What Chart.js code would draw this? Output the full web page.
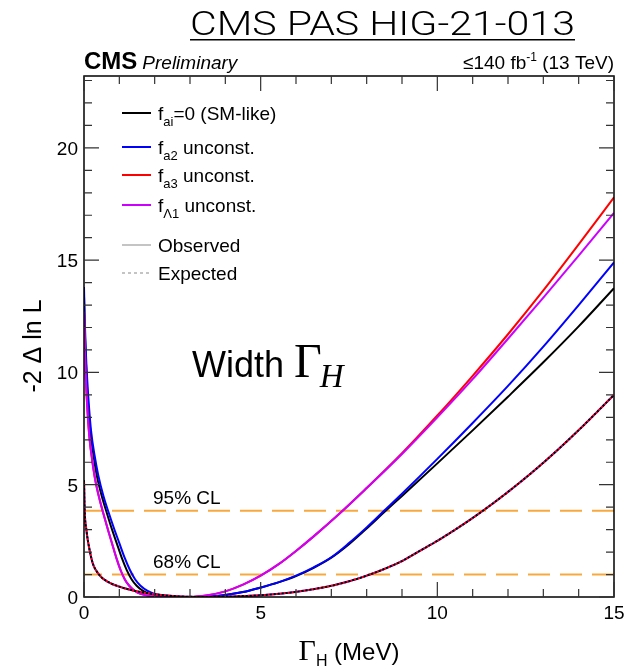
<!DOCTYPE html>
<html>
<head>
<meta charset="utf-8">
<script src="https://cdn.jsdelivr.net/npm/chart.js@4.4.0/dist/chart.umd.min.js"></script>
<style>
  html, body { margin: 0; padding: 0; background: #fff; }
  canvas { display: block; }
</style>
</head>
<body>
<canvas id="c" width="641" height="667"></canvas>
<script>
// ---------- data ----------
const xTicks = [0, 5, 10, 15];
const yTicks = [0, 5, 10, 15, 20];
const clLevels = [3.84, 1.0];
const clLabels = ["95% CL", "68% CL"];

// observed (solid)
const smX = [0, 0.02, 0.05, 0.08, 0.13, 0.19, 0.28, 0.37, 0.51, 0.65, 0.79, 0.93, 1.07, 1.21, 1.35, 1.49, 1.67, 1.86, 2.14, 2.45, 3.0,
             3.5, 4.0, 4.5, 5.0, 5.5, 6.0, 6.5, 7.0, 7.5, 8.0, 8.5, 9, 10, 11, 12, 13, 14, 15];
const smY = [13.4, 12.0, 10.7, 9.5, 8.3, 7.25, 6.2, 5.35, 4.45, 3.72, 3.02, 2.38, 1.74, 1.2, 0.78, 0.5, 0.27, 0.14, 0.05, 0.01, 0,
             0.02, 0.09, 0.22, 0.42, 0.65, 0.93, 1.3, 1.75, 2.35, 3.05, 3.78, 4.5, 5.95, 7.42, 8.92, 10.45, 12.05, 13.75];

const a2X = [0, 0.02, 0.05, 0.09, 0.14, 0.2, 0.3, 0.4, 0.55, 0.7, 0.85, 1.0, 1.15, 1.3, 1.45, 1.6, 1.8, 2.0, 2.3, 2.6, 2.95,
             3.5, 4.0, 4.5, 5.0, 5.5, 6.0, 6.5, 7.0, 7.5, 8.0, 8.5, 9, 10, 11, 12, 13, 14, 15];
const a2Y = [13.8, 12.4, 11.0, 9.7, 8.5, 7.4, 6.3, 5.45, 4.5, 3.75, 3.05, 2.4, 1.75, 1.2, 0.78, 0.5, 0.27, 0.14, 0.05, 0.01, 0,
             0.02, 0.09, 0.22, 0.42, 0.65, 0.95, 1.32, 1.77, 2.4, 3.1, 3.85, 4.6, 6.15, 7.75, 9.4, 11.15, 13.0, 14.9];

const a3X = [0, 0.02, 0.04, 0.07, 0.11, 0.16, 0.24, 0.32, 0.44, 0.56, 0.68, 0.8, 0.92, 1.04, 1.16, 1.28, 1.44, 1.6, 1.84, 2.1, 2.5, 3.0,
             3.5, 4.0, 4.5, 5.0, 5.5, 6.0, 6.5, 7.25, 8.0, 9, 10, 11, 12, 13, 14, 15];
const a3Y = [12.7, 11.3, 10.2, 9.1, 8.0, 7.0, 6.0, 5.2, 4.35, 3.65, 2.98, 2.35, 1.72, 1.18, 0.77, 0.5, 0.27, 0.14, 0.05, 0.015, 0.002, 0,
             0.08, 0.25, 0.55, 0.95, 1.45, 2.05, 2.7, 3.74, 4.85, 6.4, 8.08, 9.85, 11.7, 13.65, 15.7, 17.8];

const l1X = [0, 0.02, 0.04, 0.07, 0.11, 0.16, 0.24, 0.32, 0.44, 0.56, 0.68, 0.8, 0.92, 1.04, 1.16, 1.28, 1.44, 1.6, 1.84, 2.1, 2.5, 3.0,
             3.5, 4.0, 4.5, 5.0, 5.5, 6.0, 6.5, 7.25, 8.0, 9, 10, 11, 12, 13, 14, 15];
const l1Y = [12.7, 11.3, 10.2, 9.1, 8.0, 7.0, 6.0, 5.2, 4.35, 3.65, 2.98, 2.35, 1.72, 1.18, 0.77, 0.5, 0.27, 0.14, 0.05, 0.015, 0.002, 0,
             0.08, 0.25, 0.55, 0.95, 1.45, 2.05, 2.7, 3.74, 4.85, 6.37, 8.0, 9.7, 11.5, 13.33, 15.2, 17.1];

// expected (dotted): the four hypotheses lie on top of each other
const expX = [0, 0.02, 0.07, 0.16, 0.25, 0.3, 0.4, 0.5, 0.65, 0.8, 1.0, 1.34, 1.7, 2.19, 2.6, 3.0, 3.3,
              4.0, 4.5, 5.0, 5.5, 6.0, 6.5, 7.0, 7.5, 8.0, 8.5, 9.0, 9.5, 10, 11, 12, 13, 14, 15];
const expY = [5.2, 3.85, 2.96, 2.08, 1.49, 1.3, 1.05, 0.87, 0.7, 0.58, 0.46, 0.31, 0.19, 0.09, 0.035, 0.008, 0,
              0.015, 0.04, 0.08, 0.14, 0.23, 0.35, 0.5, 0.7, 0.95, 1.25, 1.6, 2.05, 2.5, 3.52, 4.68, 5.98, 7.43, 9.0];

const COL = { sm: "#000000", a2: "#0000ff", a3: "#ff0000", l1: "#cc00ff", cl: "#f7a93f", grey: "#c4c4c4" };
const SANS = '"Liberation Sans", Arial, Helvetica, sans-serif';
const SERIF = '"Liberation Serif", "Times New Roman", serif';

const pts = (xs, ys) => xs.map((x, i) => ({ x, y: ys[i] }));

function solid(label, xs, ys, color) {
  return { label, data: pts(xs, ys), borderColor: color, borderWidth: 2, pointRadius: 0,
           fill: false, cubicInterpolationMode: "monotone" };
}
function dotted(label, color, offset) {
  return { label, data: pts(expX, expY), borderColor: color, borderWidth: 2, pointRadius: 0,
           fill: false, cubicInterpolationMode: "monotone", borderDash: [2, 2], borderDashOffset: offset };
}
function clLine(v) {
  return { label: "cl" + v, data: [{ x: 0, y: v }, { x: 15, y: v }], borderColor: COL.cl, borderWidth: 2,
           pointRadius: 0, fill: false, borderDash: [22, 10], borderDashOffset: 4 };
}

// first dataset ends up on top
const datasets = [
  dotted("exp sm", COL.sm, 0),
  dotted("exp a3", COL.a3, 2),
  dotted("exp l1", COL.l1, 1),
  solid("fL1", l1X, l1Y, COL.l1),
  solid("fa3", a3X, a3Y, COL.a3),
  solid("fa2", a2X, a2Y, COL.a2),
  solid("SM", smX, smY, COL.sm),
  dotted("exp a2", COL.a2, 3),
  ...clLevels.map(clLine),
];

// ---------- text helpers ----------
function txt(ctx, s, x, y, font, align, color) {
  ctx.font = font;
  ctx.textAlign = align || "left";
  ctx.textBaseline = "alphabetic";
  ctx.fillStyle = color || "#000";
  ctx.fillText(s, x, y);
  return ctx.measureText(s).width;
}
// runs: [text, font, dy]
function runs(ctx, x, y, list) {
  let cx = x;
  list.forEach(([s, font, dy]) => { cx += txt(ctx, s, cx, y + (dy || 0), font, "left"); });
  return cx - x;
}
function runsWidth(ctx, list) {
  let w = 0;
  list.forEach(([s, font]) => { ctx.font = font; w += ctx.measureText(s).width; });
  return w;
}

const decor = {
  id: "decor",
  afterDraw(chart) {
    const ctx = chart.ctx, a = chart.chartArea;
    const xs = chart.scales.x, ys = chart.scales.y;
    ctx.save();

    // frame
    ctx.strokeStyle = "#000";
    ctx.lineWidth = 1.5;
    ctx.strokeRect(a.left, a.top, a.right - a.left, a.bottom - a.top);

    // ticks on all four sides
    ctx.lineWidth = 1.2;
    ctx.strokeStyle = "#333";
    ctx.beginPath();
    for (let v = 0; v <= 15; v++) {
      const p = xs.getPixelForValue(v), len = v % 5 === 0 ? 15 : 8;
      ctx.moveTo(p, a.bottom); ctx.lineTo(p, a.bottom - len);
      ctx.moveTo(p, a.top); ctx.lineTo(p, a.top + len);
    }
    for (let v = 0; v <= 23; v++) {
      const p = ys.getPixelForValue(v), len = v % 5 === 0 ? 15 : 8;
      ctx.moveTo(a.left, p); ctx.lineTo(a.left + len, p);
      ctx.moveTo(a.right, p); ctx.lineTo(a.right - len, p);
    }
    ctx.stroke();

    // tick labels
    xTicks.forEach(v => txt(ctx, String(v), xs.getPixelForValue(v), a.bottom + 22, "19px " + SANS, "center"));
    yTicks.forEach(v => txt(ctx, String(v), a.left - 6, ys.getPixelForValue(v) + 7, "19px " + SANS, "right"));

    // axis titles (centred)
    const xt = [["\u0393", "30px " + SERIF, 0], ["H", "16px " + SANS, 6], [" (MeV)", "24px " + SANS, 0]];
    runs(ctx, (a.left + a.right) / 2 - runsWidth(ctx, xt) / 2, 660, xt);
    ctx.save();
    ctx.translate(41, 346);
    ctx.rotate(-Math.PI / 2);
    txt(ctx, "-2 \u0394 ln L", 0, 0, "25px " + SANS, "center");
    ctx.restore();

    // page title, underlined
    const title = "CMS PAS HIG-21-013";
    ctx.font = "300 34px Roboto, " + SANS;
    const tw = ctx.measureText(title).width, want = 385, tx = 190;
    ctx.save();
    ctx.translate(tx, 35);
    ctx.scale(want / tw, 1);
    txt(ctx, title, 0, 0, "300 34px Roboto, " + SANS);
    ctx.restore();
    ctx.fillStyle = "#000";
    ctx.fillRect(tx, 39, want, 1.5);

    // CMS label & lumi
    const w1 = txt(ctx, "CMS", a.left, 69, "bold 24px " + SANS);
    txt(ctx, "Preliminary", a.left + w1 + 5, 69, "italic 19px " + SANS);
    const lumi = [["\u2264140 fb", "19px " + SANS, 0], ["-1", "12px " + SANS, -8], [" (13 TeV)", "19px " + SANS, 0]];
    runs(ctx, a.right - runsWidth(ctx, lumi), 69, lumi);

    // legend
    const L0 = 122, L1 = 151, T0 = 158, F = "19px " + SANS, S = "13px " + SANS;
    const leg = [
      { y: 113, color: COL.sm, parts: [["f", F, 0], ["ai", S, 6], ["=0 (SM-like)", F, 0]] },
      { y: 147, color: COL.a2, parts: [["f", F, 0], ["a2", S, 6], [" unconst.", F, 0]] },
      { y: 175, color: COL.a3, parts: [["f", F, 0], ["a3", S, 6], [" unconst.", F, 0]] },
      { y: 205, color: COL.l1, parts: [["f", F, 0], ["\u039B1", S, 6], [" unconst.", F, 0]] },
      { y: 245, color: COL.grey, parts: [["Observed", F, 0]] },
      { y: 273, color: COL.grey, dash: true, parts: [["Expected", F, 0]] },
    ];
    leg.forEach(r => {
      ctx.strokeStyle = r.color;
      ctx.lineWidth = 2;
      ctx.setLineDash(r.dash ? [3, 3] : []);
      ctx.beginPath(); ctx.moveTo(L0, r.y); ctx.lineTo(L1, r.y); ctx.stroke();
      ctx.setLineDash([]);
      runs(ctx, T0, r.y + 7, r.parts);
    });

    // CL labels
    clLevels.forEach((v, i) => txt(ctx, clLabels[i], 153, ys.getPixelForValue(v) - 7, "19px " + SANS));

    // big "Width Γ_H"
    const ww = txt(ctx, "Width ", 192, 377, "36px " + SANS);
    const gw = txt(ctx, "\u0393", 192 + ww, 377, "48px " + SERIF);
    txt(ctx, "H", 192 + ww + gw - 2, 387, "italic 33px " + SERIF);

    ctx.restore();
  }
};

new Chart(document.getElementById("c"), {
  type: "line",
  data: { datasets },
  options: {
    responsive: false,
    animation: false,
    devicePixelRatio: 1,
    layout: { padding: { left: 84, right: 27, top: 76, bottom: 70 } },
    scales: {
      x: { type: "linear", min: 0, max: 15, display: false },
      y: { type: "linear", min: 0, max: 23.2, display: false },
    },
    plugins: { legend: { display: false }, tooltip: { enabled: false } },
  },
  plugins: [decor],
});
</script>
</body>
</html>
